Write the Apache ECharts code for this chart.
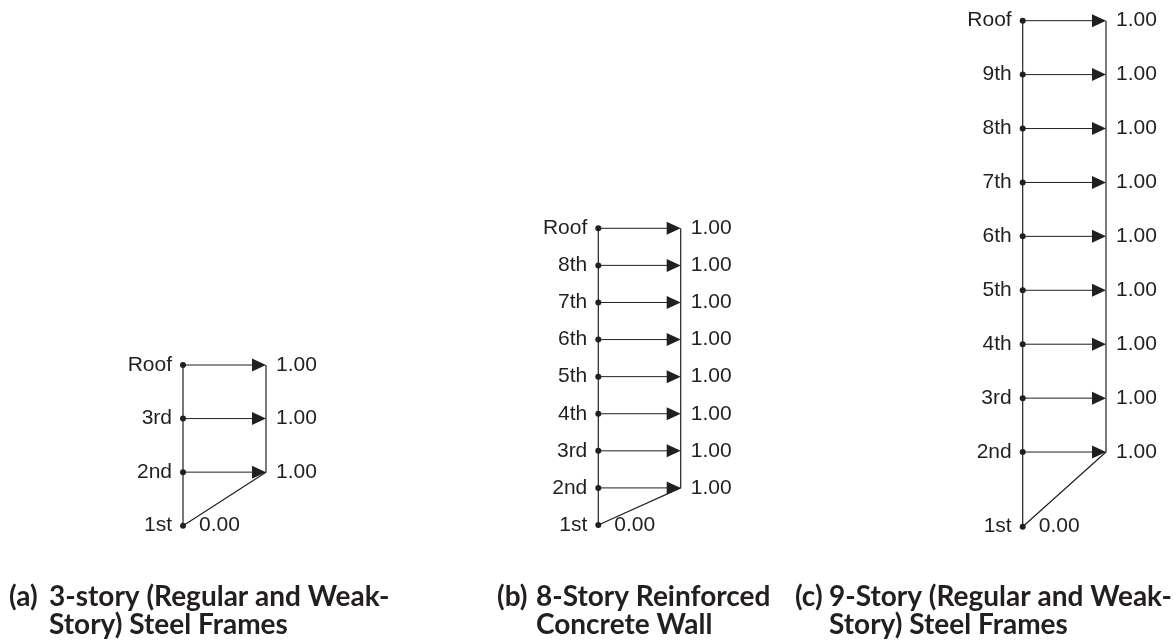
<!DOCTYPE html>
<html><head><meta charset="utf-8">
<script src="https://cdn.jsdelivr.net/npm/echarts@6/dist/echarts.min.js"></script>
<style>html,body{margin:0;padding:0;background:#fff}#c{width:1176px;height:644px}</style>
</head><body><div id="c"></div>
<script>
// ---- data ----
const floorsA = ['1st', '2nd', '3rd', 'Roof'];
const heightsA = [0, 13, 26, 39];
const loadsA = [0.00, 1.00, 1.00, 1.00];

const floorsB = ['1st', '2nd', '3rd', '4th', '5th', '6th', '7th', '8th', 'Roof'];
const heightsB = [0, 1, 2, 3, 4, 5, 6, 7, 8];
const loadsB = [0.00, 1.00, 1.00, 1.00, 1.00, 1.00, 1.00, 1.00, 1.00];

const floorsC = ['1st', '2nd', '3rd', '4th', '5th', '6th', '7th', '8th', '9th', 'Roof'];
const heightsC = [0, 18, 31, 44, 57, 70, 83, 96, 109, 122];
const loadsC = [0.00, 1.00, 1.00, 1.00, 1.00, 1.00, 1.00, 1.00, 1.00, 1.00];

const captionTags = ['(a)', '(b)', '(c)'];
const captionLine1 = ['3-story (Regular and Weak-', '8-Story Reinforced', '9-Story (Regular and Weak-'];
const captionLine2 = ['Story) Steel Frames', 'Concrete Wall', 'Story) Steel Frames'];

// ---- layout / style ----
const INK = '#231f20';
const LBL_FONT = 'Liberation Sans, Arial, sans-serif';
const CAP_FONT = 'Lato, sans-serif';
const CAP_SIZE = 28;
const panels = [
  { floors: floorsA, heights: heightsA, loads: loadsA, grid: { left: 183, top: 365, width: 83, height: 160.7 } },
  { floors: floorsB, heights: heightsB, loads: loadsB, grid: { left: 598.3, top: 228.3, width: 82.4, height: 296.7 } },
  { floors: floorsC, heights: heightsC, loads: loadsC, grid: { left: 1022.7, top: 20.7, width: 83.3, height: 506 } }
];
const capPos = [{ tag: 9, text: 49 }, { tag: 497, text: 536 }, { tag: 795, text: 829 }];

const grid = [], xAxis = [], yAxis = [], series = [];
panels.forEach((p, i) => {
  grid.push(Object.assign({ containLabel: false }, p.grid));
  xAxis.push({ type: 'value', gridIndex: i, min: 0, max: 1, show: false });
  yAxis.push({ type: 'value', gridIndex: i, min: 0, max: p.heights[p.heights.length - 1], show: false });
  // load profile (right outline + diagonal) with value labels
  series.push({
    type: 'line', xAxisIndex: i, yAxisIndex: i, z: 2,
    data: p.heights.map((h, k) => ({
      value: [p.loads[k], h],
      label: { distance: k === 0 ? 16 : 10 }
    })),
    symbol: 'circle', symbolSize: 0.01, showSymbol: true,
    itemStyle: { color: 'rgba(0,0,0,0)' },
    lineStyle: { color: INK, width: 1.2 },
    label: {
      show: true, position: 'right', color: INK, fontFamily: LBL_FONT, fontSize: 21,
      formatter: (d) => d.value[0].toFixed(2)
    },
    labelLayout: { hideOverlap: false },
    silent: true
  });
  // arrows
  series.push({
    type: 'custom', xAxisIndex: i, yAxisIndex: i, z: 3,
    data: p.heights.slice(1).map((h, k) => [p.loads[k + 1], h]),
    renderItem: (params, api) => {
      const v = api.value(0), h = api.value(1);
      const s = api.coord([0, h]);
      const e = api.coord([v, h]);
      const L = 14, W = 6.5;
      return {
        type: 'group',
        children: [
          { type: 'line', shape: { x1: s[0], y1: s[1], x2: e[0] - L + 1, y2: e[1] }, style: { stroke: INK, lineWidth: 1 } },
          { type: 'polygon', shape: { points: [[e[0], e[1]], [e[0] - L, e[1] - W], [e[0] - L, e[1] + W]] }, style: { fill: INK } }
        ]
      };
    },
    silent: true
  });
  // building axis with floor dots and floor labels
  series.push({
    type: 'line', xAxisIndex: i, yAxisIndex: i, z: 4,
    data: p.heights.map((h, k) => ({ value: [0, h], name: p.floors[k] })),
    symbol: 'circle', symbolSize: 6, showSymbol: true,
    itemStyle: { color: INK, borderWidth: 0 },
    lineStyle: { color: INK, width: 1.2 },
    label: {
      show: true, position: 'left', distance: 8, color: INK, fontFamily: LBL_FONT, fontSize: 21,
      formatter: (d) => d.name
    },
    labelLayout: { hideOverlap: false },
    silent: true
  });
});

const graphic = [];
const capFont = 'bold ' + CAP_SIZE + 'px ' + CAP_FONT;
captionTags.forEach((t, i) => {
  graphic.push({ type: 'text', x: capPos[i].tag, y: 597, style: { text: t, font: capFont, fill: INK, verticalAlign: 'middle' } });
  graphic.push({ type: 'text', x: capPos[i].text, y: 597, style: { text: captionLine1[i], font: capFont, fill: INK, verticalAlign: 'middle' } });
  graphic.push({ type: 'text', x: capPos[i].text, y: 625, style: { text: captionLine2[i], font: capFont, fill: INK, verticalAlign: 'middle' } });
});

const chart = echarts.init(document.getElementById('c'), null, { renderer: 'canvas' });
chart.setOption({
  animation: false,
  backgroundColor: '#ffffff',
  grid, xAxis, yAxis, series, graphic
});
</script>
</body></html>
